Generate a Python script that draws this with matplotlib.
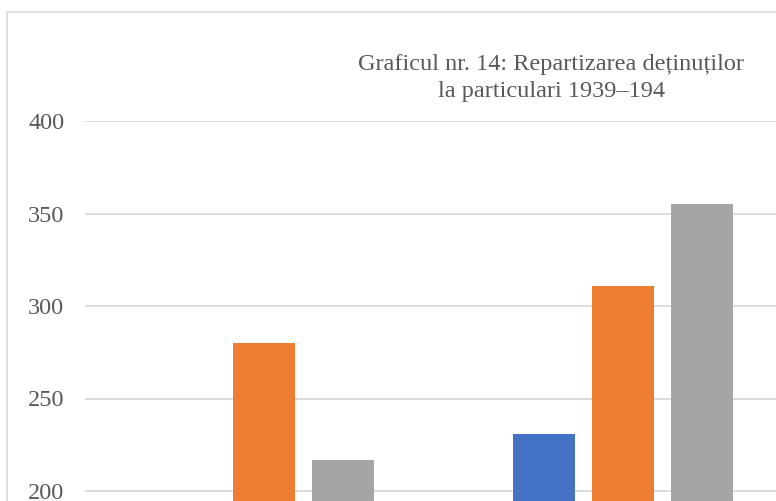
import matplotlib
matplotlib.use("Agg")
import matplotlib.pyplot as plt
from matplotlib.patches import Rectangle
import numpy as np

categories = ["A", "B"]
series_names = ["Seria 1", "Seria 2", "Seria 3"]
values_s1 = [150, 231]
values_s2 = [280, 311]
values_s3 = [217, 355]
yticks = [200, 250, 300, 350, 400]
title_text = "Graficul nr. 14: Repartizarea deținuților\nla particulari 1939–194"

colors = ["#4472C4", "#ED7D31", "#A5A5A5"]

W, H = 776, 501
fig = plt.figure(figsize=(W / 100, H / 100), dpi=100)
fig.patch.set_facecolor("white")

# chart border
fig.patches.append(Rectangle((7 / W, -0.5), 2.0, (H - 12) / H + 0.5,
                             transform=fig.transFigure, fill=False,
                             edgecolor="#D9D9D9", linewidth=1.2))

px_top, px_zero = 121, 861
left_px = 85
group_px = 358.5
ax = fig.add_axes([left_px / W, (H - px_zero) / H,
                   group_px * len(categories) / W, (px_zero - px_top) / H])
ax.set_facecolor("none")

x = np.arange(len(categories))
pitch = 79 / group_px
width = 62 / group_px
for i, vals in enumerate([values_s1, values_s2, values_s3]):
    ax.bar(x + (i - 1) * pitch, vals, width=width, color=colors[i],
           label=series_names[i], zorder=3)

ax.set_xlim(-0.5, len(categories) - 0.5)
ax.set_ylim(0, 400)
ax.set_yticks(yticks)
ax.set_yticklabels([str(t) for t in yticks], fontfamily="Liberation Serif",
                   fontsize=17.5, color="#595959")
ax.set_xticks([])
ax.tick_params(axis="y", length=0, pad=15)
ax.grid(axis="y", color="#D9D9D9", linewidth=1.3, zorder=0)
for s in ax.spines.values():
    s.set_visible(False)

fig.text(551 / W, 1 - 78 / H, title_text, ha="center", va="center",
         fontfamily="Liberation Serif", fontsize=17.5, color="#595959",
         linespacing=1.4)

fig.savefig("out.png", dpi=100)
